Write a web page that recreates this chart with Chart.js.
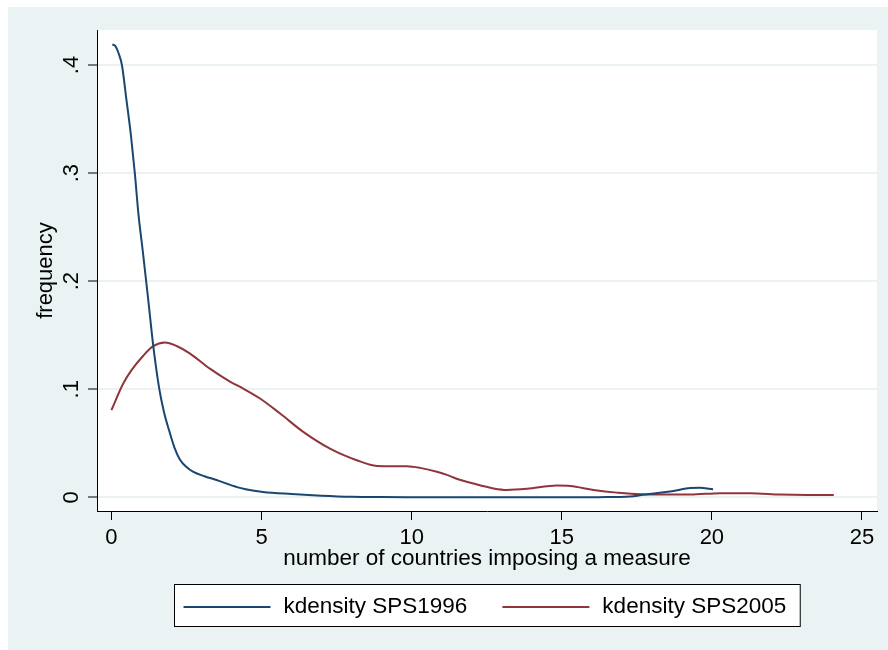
<!DOCTYPE html>
<html lang="en">
<head>
    <meta charset="UTF-8">
    <title>kdensity SPS1996 vs SPS2005</title>
    <script src="https://cdn.jsdelivr.net/npm/chart.js"></script>
    <style>
        body {
            margin: 0;
            padding: 0;
            background: #ffffff;
        }
        canvas {
            display: block;
        }
    </style>
</head>
<body>
    <canvas id="kdChart" width="888" height="650"></canvas>

    <script>
        // values
        const x1996 = [0.03, 0.12, 0.25, 0.35, 0.5, 0.65, 0.78, 0.9, 1.04, 1.23, 1.39, 1.59, 1.75, 1.92, 2.1, 2.28, 2.5, 2.73, 3.1, 3.5, 3.9, 4.28, 4.7, 5.05, 6, 7, 8, 9, 10, 12, 14, 16, 16.5, 17.4, 17.6, 18.4, 18.72, 19.28, 19.6, 20.04];
        const y1996 = [0.419, 0.418, 0.41, 0.40, 0.368, 0.335, 0.30, 0.262, 0.229, 0.182, 0.141, 0.101, 0.079, 0.062, 0.046, 0.035, 0.028, 0.0235, 0.0195, 0.016, 0.012, 0.0087, 0.0062, 0.0048, 0.003, 0.0015, 0.0005, 0.0002, 0.0001, 0, 0, 0, 0.0002, 0.001, 0.0019, 0.0046, 0.0058, 0.0086, 0.0087, 0.0074];

        const x2005 = [0, 0.39, 0.67, 1.06, 1.39, 1.78, 2.17, 2.62, 3.28, 3.95, 4.39, 4.95, 5.62, 6.39, 7.28, 8.17, 8.84, 9.84, 10.28, 10.84, 11.2, 11.5, 12.06, 12.73, 13.17, 13.84, 14.84, 15.28, 16.06, 16.84, 17.62, 19.28, 20.28, 21.28, 22.28, 23.17, 24.06];
        const y2005 = [0.0806, 0.105, 0.1176, 0.131, 0.1398, 0.1432, 0.140, 0.133, 0.119, 0.107, 0.1006, 0.0914, 0.0775, 0.0605, 0.045, 0.0343, 0.029, 0.0287, 0.0272, 0.0237, 0.0205, 0.0172, 0.0127, 0.0082, 0.0068, 0.0078, 0.0108, 0.0104, 0.0068, 0.0043, 0.0028, 0.0025, 0.0038, 0.0038, 0.0025, 0.0021, 0.0021];

        const seriesLabels = ['kdensity SPS1996', 'kdensity SPS2005'];
        const seriesColors = ['#1a476f', '#90353b'];

        const xTicks = [0, 5, 10, 15, 20, 25];
        const yTicks = [0, 0.1, 0.2, 0.3, 0.4];
        const yTickLabels = ['0', '.1', '.2', '.3', '.4'];

        const FONT = 'Liberation Sans, Arial, sans-serif';
        const BG = '#eaf2f3';

        function toPoints(xs, ys) {
            return xs.map((x, i) => ({ x: x, y: ys[i] }));
        }

        // Stata style backgrounds: light outer region, white plot region
        const backgroundPlugin = {
            id: 'background',
            beforeDraw(chart) {
                const { ctx, chartArea } = chart;
                ctx.save();
                ctx.fillStyle = '#ffffff';
                ctx.fillRect(0, 0, chart.width, chart.height);
                ctx.fillStyle = BG;
                ctx.fillRect(8, 7, chart.width - 8, chart.height - 7);
                ctx.fillStyle = '#ffffff';
                ctx.fillRect(chartArea.left, chartArea.top, chartArea.right - chartArea.left, chartArea.bottom - chartArea.top);
                ctx.restore();
            }
        };

        // y tick labels are rotated in the reference
        const yLabelsPlugin = {
            id: 'yLabels',
            afterDraw(chart) {
                const { ctx } = chart;
                const yScale = chart.scales.y;
                ctx.save();
                ctx.fillStyle = '#000';
                ctx.font = '22px ' + FONT;
                ctx.textAlign = 'center';
                ctx.textBaseline = 'middle';
                yTicks.forEach((v, i) => {
                    const py = yScale.getPixelForValue(v);
                    ctx.save();
                    ctx.translate(72, py);
                    ctx.rotate(-Math.PI / 2);
                    ctx.fillText(yTickLabels[i], 0, 0);
                    ctx.restore();
                });
                ctx.restore();
            }
        };

        // boxed legend below the axis title
        const legendPlugin = {
            id: 'boxLegend',
            afterDraw(chart) {
                const { ctx, chartArea } = chart;
                const boxTop = 584, boxBottom = 626;
                const lineLen = 87, gapText = 13, gapItem = 35, padL = 9, padR = 14;
                ctx.save();
                ctx.font = '22.5px ' + FONT;
                const widths = seriesLabels.map(t => ctx.measureText(t).width);
                let total = padL + padR;
                widths.forEach((w, i) => {
                    total += lineLen + gapText + w + (i > 0 ? gapItem : 0);
                });
                const cx = (chartArea.left + chartArea.right) / 2;
                const left = Math.round(cx - total / 2) + 0.5;
                ctx.fillStyle = '#ffffff';
                ctx.fillRect(left, boxTop + 0.5, total, boxBottom - boxTop);
                ctx.strokeStyle = '#000';
                ctx.lineWidth = 1;
                ctx.strokeRect(left, boxTop + 0.5, total, boxBottom - boxTop);

                const midY = 607;
                let px = left + padL;
                seriesLabels.forEach((t, i) => {
                    if (i > 0) px += gapItem;
                    ctx.strokeStyle = seriesColors[i];
                    ctx.lineWidth = 2;
                    ctx.beginPath();
                    ctx.moveTo(px, midY);
                    ctx.lineTo(px + lineLen, midY);
                    ctx.stroke();
                    px += lineLen + gapText;
                    ctx.fillStyle = '#000';
                    ctx.textAlign = 'left';
                    ctx.textBaseline = 'middle';
                    ctx.fillText(t, px, midY);
                    px += widths[i];
                });
                ctx.restore();
            }
        };

        const ctx = document.getElementById('kdChart').getContext('2d');

        new Chart(ctx, {
            type: 'line',
            data: {
                datasets: [
                    {
                        label: seriesLabels[0],
                        data: toPoints(x1996, y1996),
                        borderColor: seriesColors[0],
                        borderWidth: 2,
                        pointRadius: 0,
                        cubicInterpolationMode: 'monotone',
                        fill: false
                    },
                    {
                        label: seriesLabels[1],
                        data: toPoints(x2005, y2005),
                        borderColor: seriesColors[1],
                        borderWidth: 2,
                        pointRadius: 0,
                        cubicInterpolationMode: 'monotone',
                        fill: false
                    }
                ]
            },
            options: {
                responsive: false,
                animation: false,
                layout: {
                    padding: { top: 30, right: 11, left: 0, bottom: 77 }
                },
                plugins: {
                    legend: { display: false },
                    tooltip: { enabled: false }
                },
                scales: {
                    x: {
                        type: 'linear',
                        min: -0.48,
                        max: 25.5,
                        afterBuildTicks(scale) {
                            scale.ticks = xTicks.map(v => ({ value: v }));
                        },
                        afterFit(scale) {
                            scale.height = 62;
                        },
                        border: { display: true, color: '#000', width: 1 },
                        grid: {
                            drawOnChartArea: false,
                            drawTicks: true,
                            tickLength: 9,
                            tickColor: '#000',
                            tickWidth: 1
                        },
                        ticks: {
                            color: '#000',
                            font: { family: FONT, size: 22 },
                            padding: 5,
                            maxRotation: 0,
                            callback: v => String(v)
                        },
                        title: {
                            display: true,
                            text: 'number of countries imposing a measure',
                            color: '#000',
                            font: { family: FONT, size: 22.5 },
                            padding: { top: 0, bottom: 1 }
                        }
                    },
                    y: {
                        type: 'linear',
                        min: -0.0127,
                        max: 0.4324,
                        afterBuildTicks(scale) {
                            scale.ticks = yTicks.map(v => ({ value: v }));
                        },
                        afterFit(scale) {
                            scale.width = 97;
                        },
                        border: { display: true, color: '#000', width: 1 },
                        grid: {
                            color: BG,
                            lineWidth: 2,
                            drawTicks: true,
                            tickLength: 9,
                            tickColor: '#000',
                            tickWidth: 1
                        },
                        ticks: {
                            display: false
                        },
                        title: {
                            display: true,
                            text: 'frequency',
                            color: '#000',
                            font: { family: FONT, size: 22 },
                            padding: { top: 33, bottom: 0 }
                        }
                    }
                }
            },
            plugins: [backgroundPlugin, yLabelsPlugin, legendPlugin]
        });
    </script>
</body>
</html>
